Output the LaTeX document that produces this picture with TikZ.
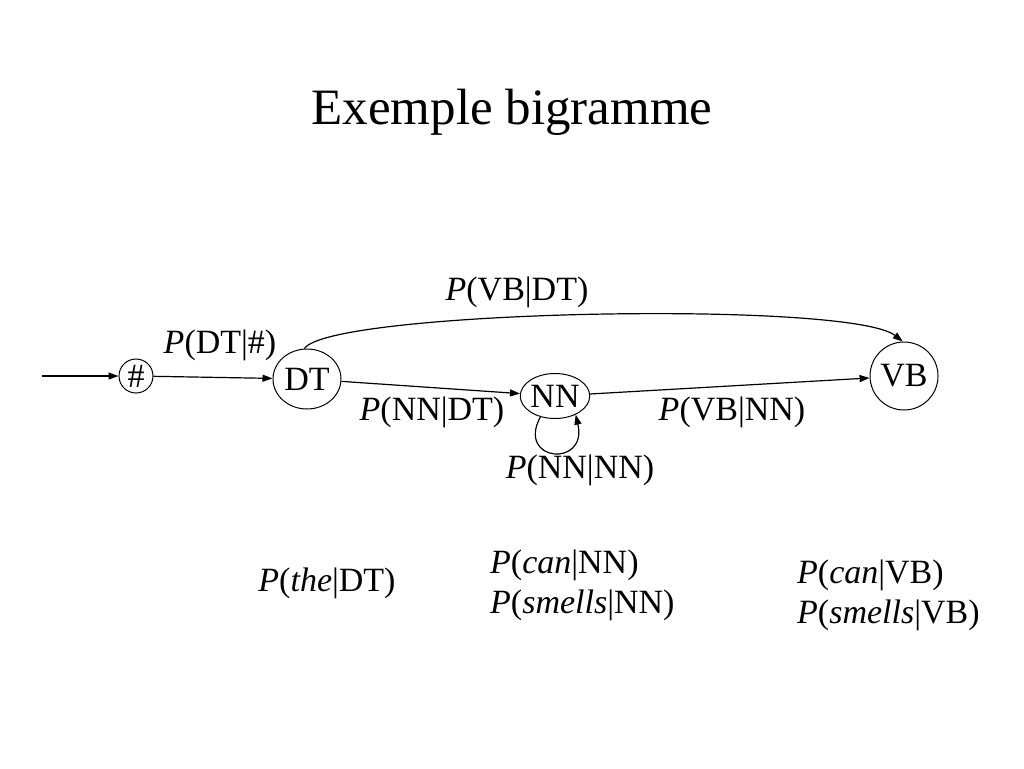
\documentclass[tikz,border=0pt]{standalone}
\usepackage{fontspec}
\setmainfont{Liberation Serif}
\usetikzlibrary{arrows.meta,shapes.geometric}
\begin{document}
\begin{tikzpicture}[x=1pt,y=-1pt,
  lbl/.style={inner sep=0pt,font=\fontsize{34}{40}\selectfont},
  state/.style={draw,ellipse,line width=1pt,inner sep=0pt,font=\fontsize{34}{40}\selectfont},
  edge/.style={line width=1.2pt,-{Triangle[length=10pt,width=7pt]}}]
\useasboundingbox[fill=white] (0,0) rectangle (1024,768);
\node[inner sep=0pt,font=\fontsize{51}{60}\selectfont] (title) at (512,112) {Exemple bigramme};

\node[state,minimum width=34pt,minimum height=34pt] (H) at (136,376) {\#};
\node[state,minimum width=68pt,minimum height=60pt] (DT) at (307,379) {DT};
\node[state,minimum width=68pt,minimum height=45pt] (NN) at (555,396) {NN};
\node[state,minimum width=68pt,minimum height=68pt] (VB) at (904,376) {VB};
\coordinate (in) at (42,376);

\draw[edge] (in) -- (H);
\draw[edge] (H) -- (DT);
\draw[edge] (DT) -- (NN);
\draw[edge] (NN) -- (VB);
\draw[edge] (DT.95) .. controls (330,310) and (850,300) .. (VB.92);
\draw[edge] (NN.-125) .. controls (516,462) and (588,468) .. (NN.-42);

\node[lbl] (l1) at (220,345) {\textit{P}(DT|\#)};
\node[lbl] (l2) at (517,292) {\textit{P}(VB|DT)};
\node[lbl] (l3) at (432,412) {\textit{P}(NN|DT)};
\node[lbl] (l4) at (732,412) {\textit{P}(VB|NN)};
\node[lbl] (l5) at (580,470) {\textit{P}(NN|NN)};

\node[lbl] (e1) at (327,583) {\textit{P}(\textit{the}|DT)};
\node[lbl,anchor=west] (e2) at (490,565) {\textit{P}(\textit{can}|NN)};
\node[lbl,anchor=west] (e3) at (490,605) {\textit{P}(\textit{smells}|NN)};
\node[lbl,anchor=west] (e4) at (797,575) {\textit{P}(\textit{can}|VB)};
\node[lbl,anchor=west] (e5) at (797,615) {\textit{P}(\textit{smells}|VB)};
\end{tikzpicture}
\end{document}
